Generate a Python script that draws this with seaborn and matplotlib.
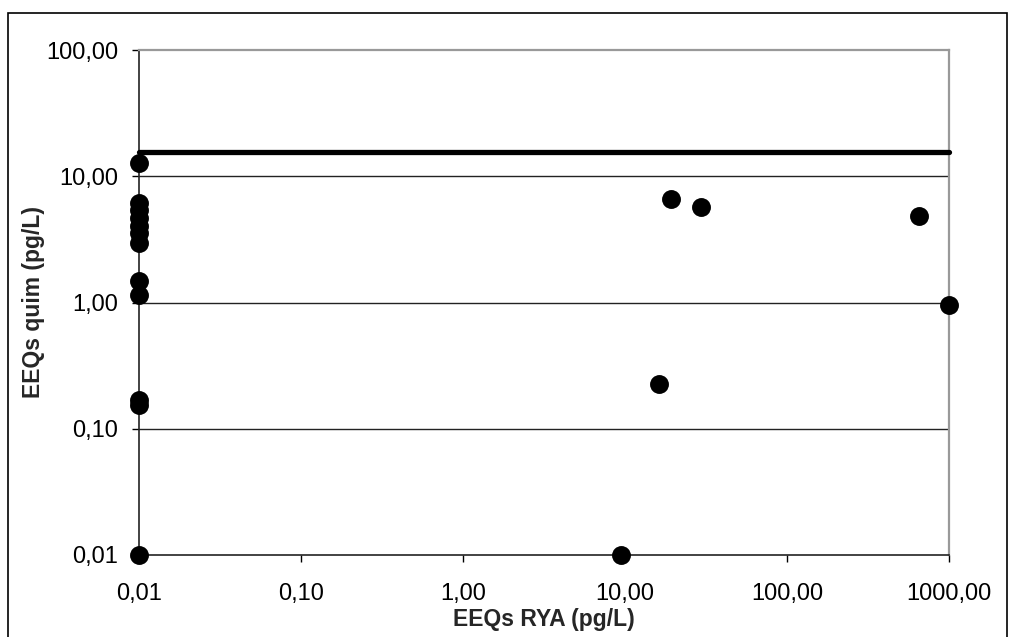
import matplotlib
matplotlib.use("Agg")
import matplotlib.pyplot as plt
import matplotlib.ticker as mticker
from matplotlib.patches import Rectangle
import seaborn as sns
import pandas as pd

# ---- data ----
ria_x = [0.01, 0.01, 0.01, 0.01, 0.01, 0.01, 0.01, 0.01, 0.01, 0.01, 0.01, 0.01,
         19.1, 29.6, 656.0, 1000.0, 16.3, 9.4]
quim_y = [12.7, 6.1, 5.4, 4.7, 4.0, 3.55, 2.95, 1.48, 1.15, 0.17, 0.155, 0.01,
          6.6, 5.7, 4.8, 0.96, 0.225, 0.01]
limit_x = [0.01, 1000.0]
limit_y = [15.6, 15.6]
x_ticks = [0.01, 0.1, 1, 10, 100, 1000]
y_ticks = [0.01, 0.1, 1, 10, 100]
x_label = "EEQs RYA (pg/L)"
y_label = "EEQs quim (pg/L)"

df = pd.DataFrame({"x": ria_x, "y": quim_y})
lim = pd.DataFrame({"x": limit_x, "y": limit_y})

sns.set_theme(style="white")
plt.rcParams["font.family"] = ["Liberation Sans", "DejaVu Sans"]

W, H = 1014, 637
fig = plt.figure(figsize=(W / 100, H / 100), dpi=100)
ax = fig.add_axes([139 / W, (H - 555) / H, 810 / W, 505 / H])

ax.set_xscale("log")
ax.set_yscale("log")
ax.set_xlim(0.01, 1000)
ax.set_ylim(0.01, 100)

# horizontal gridlines
for v in y_ticks[1:-1]:
    ax.axhline(v, color="#222222", lw=1.0, zorder=1)

sns.lineplot(data=lim, x="x", y="y", ax=ax, color="black", lw=3.8,
             clip_on=False, zorder=3, legend=False)
sns.scatterplot(data=df, x="x", y="y", ax=ax, color="black", s=185,
                linewidth=0, clip_on=False, zorder=4, legend=False)

fmt = mticker.FuncFormatter(lambda v, p: f"{v:.2f}".replace(".", ","))
ax.xaxis.set_major_locator(mticker.FixedLocator(x_ticks))
ax.yaxis.set_major_locator(mticker.FixedLocator(y_ticks))
ax.xaxis.set_minor_locator(mticker.NullLocator())
ax.yaxis.set_minor_locator(mticker.NullLocator())
ax.xaxis.set_major_formatter(fmt)
ax.yaxis.set_major_formatter(fmt)
ax.tick_params(axis="both", which="major", length=5, width=1, color="black",
               labelsize=17, labelcolor="black")
ax.tick_params(axis="x", bottom=True, pad=15)
ax.tick_params(axis="y", left=True, pad=10)

ax.set_xlabel(x_label, fontsize=16.5, fontweight="bold", labelpad=2)
ax.set_ylabel(y_label, fontsize=16.5, fontweight="bold", labelpad=1)

for side in ["left", "bottom"]:
    ax.spines[side].set_color("#222222")
    ax.spines[side].set_linewidth(1.2)
for side in ["top", "right"]:
    ax.spines[side].set_color("#999999")
    ax.spines[side].set_linewidth(1.6)
    ax.spines[side].set_visible(True)

# outer chart border (bottom edge lies just outside the image)
fig.patches.append(Rectangle((8 / W, -4 / H), (1007 - 8) / W, (H - 13 + 4) / H,
                             transform=fig.transFigure, fill=False,
                             edgecolor="black", lw=1.2))

fig.savefig("out.png", dpi=100)
